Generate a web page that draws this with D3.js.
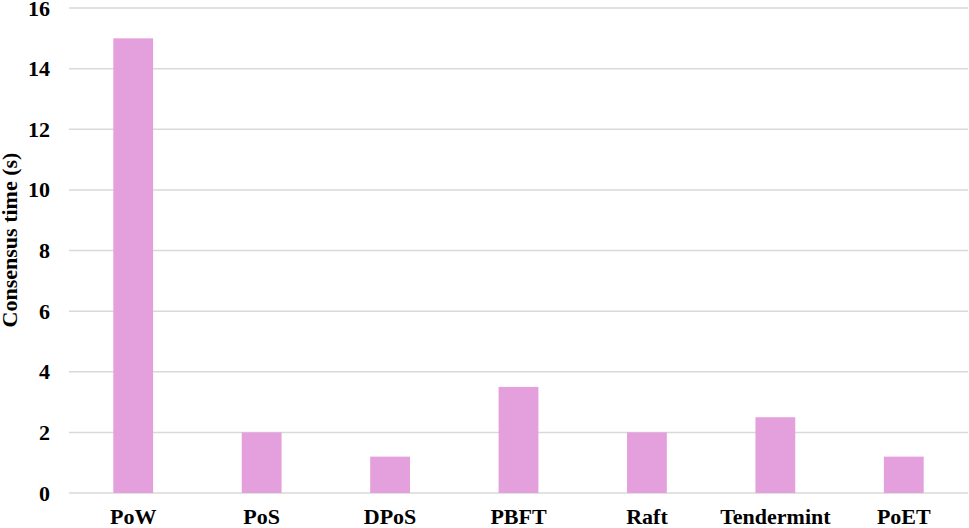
<!DOCTYPE html>
<html>
<head>
<meta charset="utf-8">
<script src="https://cdn.jsdelivr.net/npm/d3@7"></script>
<style>
  body { margin: 0; background: #fff; }
  text { font-family: "Liberation Serif", "Times New Roman", serif; font-weight: bold; fill: #000; }
</style>
</head>
<body>
<div id="graphicContainer"></div>
<script>
var protocols = ["PoW", "PoS", "DPoS", "PBFT", "Raft", "Tendermint", "PoET"]
var consensusTime = [15, 2, 1.2, 3.5, 2, 2.5, 1.2]
var yTicks = [0, 2, 4, 6, 8, 10, 12, 14, 16]

var width = 969, height = 528
var margin = {top: 8, right: 1, bottom: 35, left: 69}

var svg = d3.select("#graphicContainer").append("svg")
    .attr("width", width)
    .attr("height", height)

var x = d3.scaleBand()
    .domain(protocols)
    .range([margin.left, width - margin.right])
    .paddingInner(0.69)
    .paddingOuter(0.345)

var y = d3.scaleLinear()
    .domain([0, 16])
    .range([height - margin.bottom, margin.top])

// gridlines
svg.append("g")
    .selectAll("line")
    .data(yTicks)
    .enter()
    .append("line")
    .attr("x1", margin.left)
    .attr("x2", width - margin.right)
    .attr("y1", d => y(d))
    .attr("y2", d => y(d))
    .attr("stroke", "#d9d9d9")
    .attr("stroke-width", 1.5)

// bars
svg.append("g")
    .selectAll("rect")
    .data(consensusTime)
    .enter()
    .append("rect")
    .attr("x", (d, i) => x(protocols[i]))
    .attr("y", d => y(d))
    .attr("width", x.bandwidth())
    .attr("height", d => y(0) - y(d))
    .attr("fill", "#e4a0dc")

// y axis labels
var yAxis = svg.append("g")
    .attr("transform", "translate(" + margin.left + ",0)")
    .call(d3.axisLeft(y).tickValues(yTicks).tickSize(0).tickPadding(19))
yAxis.select(".domain").remove()
yAxis.selectAll("text").style("font-size", "22px").attr("fill", "#000")

// x axis labels
var xAxis = svg.append("g")
    .attr("transform", "translate(0," + y(0) + ")")
    .call(d3.axisBottom(x).tickSize(0).tickPadding(15))
xAxis.select(".domain").remove()
xAxis.selectAll("text").style("font-size", "22px").attr("fill", "#000")

svg.append("text")
    .attr("transform", "translate(17,240) rotate(-90)")
    .attr("text-anchor", "middle")
    .style("font-size", "22px")
    .text("Consensus time (s)")
</script>
</body>
</html>
